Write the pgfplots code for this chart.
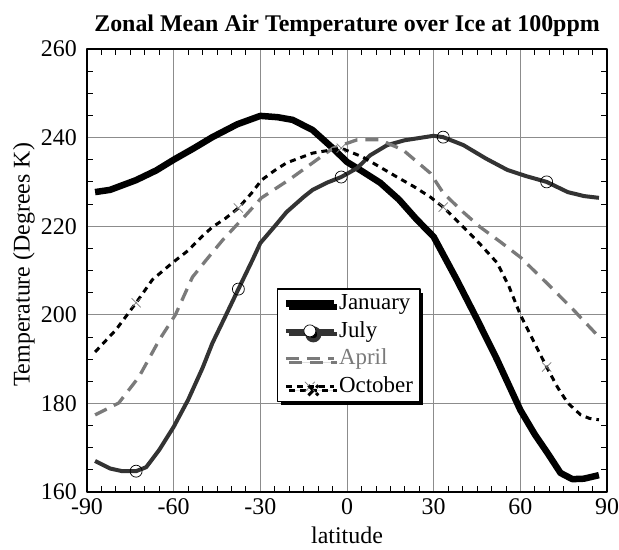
\documentclass[border=0pt]{standalone}
\usepackage{fontspec}
\setmainfont{Liberation Serif}
\usepackage{pgfplots}
\pgfplotsset{compat=1.18}
\usetikzlibrary{shadows}
\definecolor{julyc}{HTML}{333333}
\definecolor{aprilc}{HTML}{7A7A7A}
\definecolor{gridc}{HTML}{8C8C8C}
\begin{document}
\fontsize{24}{28}\selectfont
\begin{tikzpicture}[x=1bp,y=1bp]
\useasboundingbox (-87,-58) rectangle (532,492);
\begin{axis}[
  at={(0,0)}, anchor=south west,
  scale only axis, width=520bp, height=443bp,
  xmin=-90, xmax=90, ymin=160, ymax=260,
  xtick={-90,-60,-30,0,30,60,90},
  xticklabels={-90,-60,-30,0,30,60,90},
  ytick={160,180,200,220,240,260},
  yticklabels={160,180,200,220,240,260},
  minor x tick num=5, minor y tick num=3,
  grid=major,
  major grid style={gridc, line width=1bp},
  tick align=inside,
  major tick length=0bp, minor tick length=6bp,
  minor tick style={black, line width=0.8bp},
  axis line style={black, line width=1.2bp},
  xticklabel style={font=\fontsize{24}{28}\selectfont, yshift=1.5bp},
  yticklabel style={font=\fontsize{24}{28}\selectfont, xshift=-2bp},
  title={\bfseries Zonal Mean Air Temperature over Ice at 100ppm},
  title style={font=\fontsize{24}{28}\selectfont, yshift=-1.5bp},
  xlabel={latitude},
  ylabel={Temperature (Degrees K)},
  xlabel style={font=\fontsize{24}{28}\selectfont, yshift=4bp},
  ylabel style={font=\fontsize{24}{28}\selectfont, yshift=-10bp, xshift=5.5bp},
  legend cell align=left,
  legend style={at={(axis cs:-24.3,206)}, anchor=north west,
    draw=black, line width=1.6bp, fill=white,
    drop shadow={shadow xshift=3.5bp, shadow yshift=-3.5bp, fill=black, opacity=1},
    font=\fontsize{23}{24}\selectfont,
    inner xsep=5bp, inner ysep=3bp, row sep=4.5bp,
    nodes={inner sep=2bp}},
  line join=round,
]
\addplot[black, line width=6.5bp, mark=none,
  legend image code/.code={\draw[black, line width=6.5bp] (0bp,0bp) -- (48bp,0bp);}]
coordinates {
(-87.2,227.7) (-82,228.2) (-73,230.4) (-66,232.6) (-60,235.0) (-53,237.6) (-46.6,240.1) (-38,243.0)
(-30,244.9) (-24,244.6) (-18.8,244.0) (-11.9,241.7) (-4.9,237.6) (0,234.5) (5,232.5) (11.5,229.8)
(18,226.0) (24,221.6) (30,217.6) (38,207.9) (45,199.0) (52,189.8) (60,178.5) (65,173.0)
(69.4,168.8) (73.9,164.3) (78,162.9) (82,163.0) (87.2,163.8)
};
\addlegendentry{January}
\addplot[julyc, line width=4bp, mark=o, mark size=6bp,
  mark options={solid, black, line width=0.7bp, fill=none},
  mark indices={4,12,20,26,31},
  legend image code/.code={\draw[julyc, line width=4bp] (0bp,0bp) -- (48bp,0bp);
    \draw[black, line width=0.7bp, fill=white] (24bp,0bp) circle (6bp);}]
coordinates {
(-87.2,167.0) (-82,165.3) (-77.8,164.7) (-73,164.7) (-69.5,165.6) (-65,169.5) (-60,174.7)
(-55,180.8) (-50,188.0) (-46.6,193.6) (-42,199.8) (-37.6,205.8) (-32.7,212.4) (-30,216.2)
(-25,220.0) (-20.9,223.2) (-15,226.6) (-11.9,228.2) (-7,229.8) (-2,231.1) (3.5,233.1)
(8,236.0) (13.9,238.3) (20,239.4) (29.9,240.4) (33.3,240.1) (40.3,238.3) (48,235.3)
(55.5,232.7) (62,231.3) (69.1,230.0) (76.4,227.7) (82,226.8) (87.2,226.4)
};
\addlegendentry{July}
\addplot[aprilc, line width=3.3bp, dash pattern=on 13bp off 8bp, mark=none,
  legend image code/.code={\draw[aprilc, line width=3.3bp, dash pattern=on 13bp off 8bp] (0bp,0bp) -- (48bp,0bp);}]
coordinates {
(-87.2,177.4) (-79,180.1) (-72,186.0) (-65,194.3) (-59.4,200.0) (-53.5,208.5) (-48.7,212.4)
(-43,216.9) (-36,221.8) (-29.6,226.4) (-20,230.5) (-11.9,234.3) (-4.9,237.6) (3.5,239.5)
(11.4,239.5) (19.4,237.2) (28.8,232.0) (33.3,227.5) (40,223.3) (46.1,219.8) (53,216.5)
(60,213.0) (69.4,207.0) (78.4,201.1) (87.2,195.0)
};
\addlegendentry{\textcolor{aprilc}{April}}
\addplot[black, line width=3bp, dash pattern=on 6bp off 5bp, mark=x, mark size=6.5bp,
  mark options={solid, aprilc, line width=0.7bp},
  mark indices={3,10,16,22,29},
  legend image code/.code={\draw[black, line width=3bp, dash pattern=on 6bp off 5bp] (0bp,0bp) -- (48bp,0bp);
    \draw[aprilc, line width=0.7bp] (19bp,-5bp) -- (29bp,5bp) (19bp,5bp) -- (29bp,-5bp);}]
coordinates {
(-87.2,191.6) (-80,196.6) (-73,202.7) (-67.4,207.9) (-60.5,211.7) (-55,214.5) (-50,217.8)
(-46.6,219.8) (-42,221.8) (-37.6,224.1) (-33,227.5) (-29.6,230.4) (-25,232.6) (-20.9,234.3)
(-11.9,236.5) (-2,237.6) (5.5,235.6) (11,233.5) (17.3,231.1) (23,229.0) (28.8,226.6)
(33.3,224.3) (40.3,219.8) (46,216.0) (52,211.7) (56,206.5) (60,200.0) (65,193.5)
(69.1,188.2) (73,183.5) (76.4,180.1) (80.9,177.4) (84,176.6) (87.2,176.3)
};
\addlegendentry{October}
\end{axis}
\end{tikzpicture}
\end{document}
